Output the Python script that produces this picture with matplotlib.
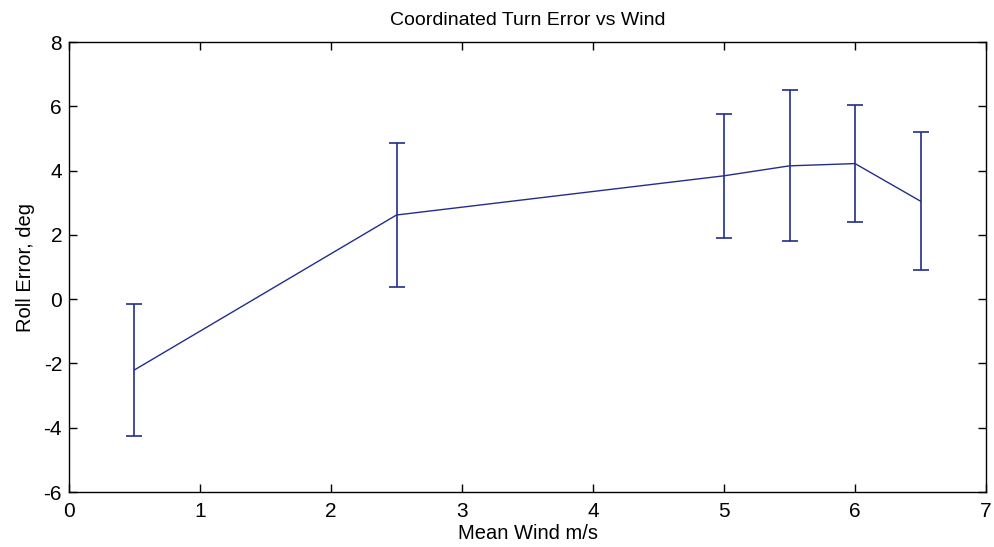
import numpy as np
from matplotlib import pyplot as plt

# wind speed vs roll error (mean and spread)
wind = [0.5, 2.5, 5.0, 5.5, 6.0, 6.5]
roll_err = [-2.2, 2.62, 3.84, 4.15, 4.22, 3.05]
spread = [2.05, 2.23, 1.93, 2.35, 1.83, 2.14]

plt.rcParams['font.family'] = ['Liberation Sans', 'DejaVu Sans']
plt.rcParams['axes.unicode_minus'] = False

fig = plt.figure(figsize=(9.94, 5.47), dpi=100)
ax = fig.add_axes([0.0694, 0.1005, 0.9226, 0.8225])

ax.errorbar(wind, roll_err, yerr=spread, color='#232d8c', linewidth=1.0,
            elinewidth=1.2, capsize=6, capthick=1.2)

ax.set_xlim(0, 7)
ax.set_ylim(-6, 8)
ax.set_xticks(np.arange(0, 8, 1))
ax.set_yticks(np.arange(-6, 9, 2))
ax.tick_params(direction='in', top=True, right=True, length=6, width=1, labelsize=15)
ax.tick_params(axis='x', pad=7)
ax.tick_params(axis='y', pad=5)
for s in ax.spines.values():
    s.set_linewidth(1.0)

ax.set_title('Coordinated Turn Error vs Wind', fontsize=14, pad=12)
ax.set_xlabel('Mean Wind m/s', fontsize=14.5, labelpad=2)
ax.set_ylabel('Roll Error, deg', fontsize=14.5, labelpad=6)

fig.savefig('out.png', dpi=100)
